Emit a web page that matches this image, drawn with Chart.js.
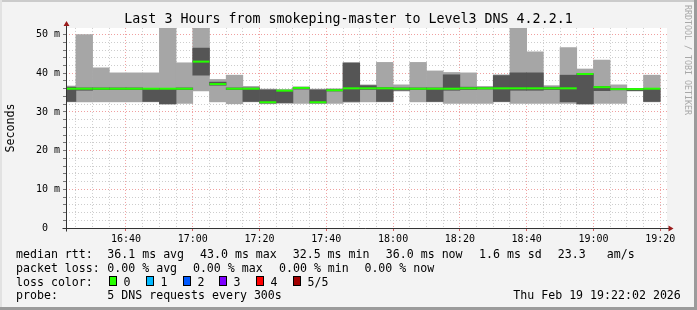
<!DOCTYPE html>
<html>
<head>
<meta charset="utf-8">
<title>Level3 DNS 4.2.2.1</title>
<script src="https://cdn.jsdelivr.net/npm/chart.js@4/dist/chart.umd.min.js"></script>
<style>
    html, body { margin: 0; padding: 0; background: #f3f3f3; }
    canvas { display: block; }
</style>
</head>
<body>
<canvas id="smoke" width="697" height="310"></canvas>
<script>
// 5-minute rrd steps, 5 DNS pings each: sorted ping 1 (min) .. ping 5 (max), ms
const STEP_START = [
    '16:20', '16:25', '16:30', '16:35', '16:40', '16:45',
    '16:50', '16:55', '17:00', '17:05', '17:10', '17:15',
    '17:20', '17:25', '17:30', '17:35', '17:40', '17:45',
    '17:50', '17:55', '18:00', '18:05', '18:10', '18:15',
    '18:20', '18:25', '18:30', '18:35', '18:40', '18:45',
    '18:50', '18:55', '19:00', '19:05', '19:10', '19:15',
];
const PING_MIN = [
    32.6, 32.6, 32.6, 32.6, 32.6, 32.6,
    32.0, 32.2, 35.4, 32.6, 32.1, 32.6,
    32.1, 32.2, 32.2, 32.2, 32.2, 32.5,
    32.6, 32.6, 35.4, 32.6, 32.6, 32.2,
    32.2, 32.2, 32.6, 32.2, 32.2, 32.2,
    32.2, 32.0, 32.2, 32.2, 35.4, 32.6,
];
const PING_2 = [
    32.7, 35.6, 35.8, 35.8, 35.8, 32.7,
    32.1, 35.8, 39.5, 36.9, 35.8, 32.7,
    32.3, 32.4, 35.9, 32.3, 35.4, 32.7,
    35.8, 32.7, 35.6, 35.8, 32.7, 35.6,
    35.8, 35.9, 32.7, 35.6, 35.6, 35.8,
    32.6, 32.1, 35.5, 35.7, 35.5, 32.7,
];
const MEDIAN = [
    36.0, 36.0, 36.0, 36.0, 36.0, 36.0,
    36.0, 36.0, 43.0, 37.2, 36.0, 36.0,
    32.5, 35.5, 36.2, 32.5, 35.6, 36.1,
    36.1, 36.1, 36.0, 36.0, 36.0, 36.0,
    36.1, 36.1, 36.1, 36.1, 36.1, 36.1,
    36.1, 39.8, 36.4, 35.9, 35.9, 36.0,
];
const PING_4 = [
    36.4, 36.2, 36.2, 36.2, 36.2, 36.1,
    36.1, 36.2, 46.5, 37.7, 36.2, 36.2,
    35.7, 35.6, 36.3, 35.7, 35.8, 42.6,
    36.8, 36.3, 36.2, 36.2, 36.2, 39.6,
    36.4, 36.3, 39.4, 40.1, 40.1, 36.4,
    39.5, 39.9, 36.6, 36.1, 36.0, 36.1,
];
const PING_MAX = [
    36.7, 50.0, 41.4, 40.1, 40.1, 40.1,
    53.0, 42.7, 53.0, 38.4, 39.5, 36.6,
    35.9, 35.8, 36.5, 35.9, 36.0, 42.8,
    37.0, 42.8, 37.0, 42.8, 40.6, 40.2,
    40.1, 36.6, 39.6, 53.0, 45.5, 36.8,
    46.6, 41.1, 43.4, 37.0, 36.1, 39.5,
];

const WINDOW = ['16:22:02', '19:22:02'];
const STEP_MIN = 5;
const X_LABELS = ['16:40', '17:00', '17:20', '17:40', '18:00', '18:20', '18:40', '19:00', '19:20'];
const Y_MAX = 51.7;
const Y_TICKS = [0, 10, 20, 30, 40, 50];
const Y_LABELS = ['0  ', '10 m', '20 m', '30 m', '40 m', '50 m'];

const LOSS_LABELS = ['0', '1', '2', '3', '4', '5/5'];
const LOSS_COLORS = ['#26ff00', '#00b8ff', '#0059ff', '#7e00ff', '#ff0000', '#a10000'];

const MONO = '"DejaVu Sans Mono", monospace';
const MAJOR_GRID = '#f0a0a0';
const MINOR_GRID = '#cdcdcd';

// ── helpers ────────────────────────────────────────────────────────────────

function toMin(s) {
    const [h, m, sec = 0] = s.split(':').map(Number);
    return h * 60 + m + sec / 60;
}

function fmtMin(v) {
    const h = Math.floor(v / 60), m = Math.round(v % 60);
    return String(h).padStart(2, '0') + ':' + String(m).padStart(2, '0');
}

const centers = STEP_START.map(s => toMin(s) + STEP_MIN / 2);
const outerSmoke = centers.map((x, i) => ({ x, y: [PING_MIN[i], PING_MAX[i]] }));
const innerSmoke = centers.map((x, i) => ({ x, y: [PING_2[i], PING_4[i]] }));
const medianPts  = centers.map((x, i) => ({ x, y: MEDIAN[i] }));

// ── frame, axes, watermark and rrd-style legend ────────────────────────────

const rrdFrame = {
    id: 'rrdFrame',
    beforeDraw(chart) {
        const { ctx, chartArea: a, width, height } = chart;
        ctx.save();
        ctx.fillStyle = '#f3f3f3';
        ctx.fillRect(0, 0, width, height);
        ctx.fillStyle = '#cbcbcb';
        ctx.fillRect(0, 0, width, 2);
        ctx.fillStyle = '#e2e2e2';
        ctx.fillRect(0, 0, 2, height);
        ctx.fillStyle = '#9b9b9b';
        ctx.fillRect(width - 3, 0, 3, height);
        ctx.fillRect(0, height - 3, width, 3);
        ctx.fillStyle = '#ffffff';
        ctx.fillRect(a.left, a.top, a.right - a.left, a.bottom - a.top);
        ctx.restore();
    },
    afterDraw(chart) {
        const { ctx, chartArea: a } = chart;
        const x0 = Math.round(a.left) + 0.5;
        const y0 = Math.round(a.bottom) + 0.5;
        ctx.save();

        // axes with arrow heads
        ctx.strokeStyle = '#333';
        ctx.lineWidth = 1;
        ctx.beginPath();
        ctx.moveTo(x0, y0 + 3);
        ctx.lineTo(x0, a.top - 5);
        ctx.moveTo(x0 - 4, y0);
        ctx.lineTo(a.right + 2, y0);
        ctx.stroke();
        ctx.fillStyle = '#9b1c1c';
        ctx.beginPath();
        ctx.moveTo(a.right + 6.5, y0);
        ctx.lineTo(a.right + 1.5, y0 - 3);
        ctx.lineTo(a.right + 1.5, y0 + 3);
        ctx.closePath();
        ctx.moveTo(x0, a.top - 7);
        ctx.lineTo(x0 - 3, a.top - 2);
        ctx.lineTo(x0 + 3, a.top - 2);
        ctx.closePath();
        ctx.fill();

        // watermark
        ctx.save();
        ctx.translate(687, 5);
        ctx.rotate(Math.PI / 2);
        ctx.font = '8.3px ' + MONO;
        ctx.fillStyle = '#a8a8a8';
        ctx.textBaseline = 'middle';
        ctx.fillText('RRDTOOL / TOBI OETIKER', 0, 0);
        ctx.restore();

        // legend
        ctx.font = '11.6px ' + MONO;
        ctx.fillStyle = '#000';
        ctx.textBaseline = 'alphabetic';
        const rows = [
            [257.7, [[16, 'median rtt:'], [107.3, '36.1 ms avg'], [200, '43.0 ms max'], [292.7, '32.5 ms min'],
                     [385.8, '36.0 ms now'], [479, '1.6 ms sd'], [557.8, '23.3'], [606.7, 'am/s']]],
            [271.7, [[16, 'packet loss:'], [107.3, '0.00 % avg'], [192.9, '0.00 % max'], [279, '0.00 % min'],
                     [364.4, '0.00 % now']]],
            [285.5, [[16, 'loss color:']]],
            [299.3, [[16, 'probe:'], [107.3, '5 DNS requests every 300s'], [513.3, 'Thu Feb 19 19:22:02 2026']]],
        ];
        rows.forEach(([y, parts]) => parts.forEach(([x, t]) => ctx.fillText(t, x, y)));

        LOSS_LABELS.forEach((label, i) => {
            const bx = Math.round(108.7 + i * 36.9);
            ctx.fillStyle = LOSS_COLORS[i];
            ctx.fillRect(bx, 276, 8, 10);
            ctx.strokeStyle = '#000';
            ctx.strokeRect(bx + 0.5, 276.5, 7, 9);
            ctx.fillStyle = '#000';
            ctx.fillText(label, bx + 14.6, 285.5);
        });
        ctx.restore();
    },
};

// ── chart ──────────────────────────────────────────────────────────────────

const chart = new Chart(document.getElementById('smoke'), {
    type: 'bar',
    data: {
        datasets: [
            {
                label: 'median rtt',
                type: 'line',
                data: medianPts,
                showLine: false,
                pointStyle: 'line',
                pointRadius: (c) => {
                    const s = c.chart.scales.x;
                    return (s.getPixelForValue(STEP_MIN) - s.getPixelForValue(0)) / 2;
                },
                pointBorderWidth: 2,
                pointBorderColor: LOSS_COLORS[0],
                clip: 0,
                order: 0,
            },
            {
                label: 'ping 2-4',
                data: innerSmoke,
                backgroundColor: '#555555',
                clip: 0,
                order: 1,
            },
            {
                label: 'ping 1-5',
                data: outerSmoke,
                backgroundColor: '#a6a6a6',
                clip: 0,
                order: 2,
            },
        ],
    },
    options: {
        responsive: false,
        animation: false,
        events: [],
        layout: { padding: 0 },
        datasets: {
            bar: { barPercentage: 1, categoryPercentage: 1, grouped: false, borderWidth: 0 },
        },
        plugins: {
            legend: { display: false },
            tooltip: { enabled: false },
            title: {
                display: true,
                text: 'Last 3 Hours from smokeping-master to Level3 DNS 4.2.2.1',
                color: '#000',
                font: { family: MONO, size: 13.3, weight: 'normal' },
                padding: { top: 12, bottom: 0 },
            },
        },
        scales: {
            x: {
                type: 'linear',
                min: toMin(WINDOW[0]),
                max: toMin(WINDOW[1]),
                offset: false,
                afterBuildTicks: (s) => {
                    const ticks = [];
                    for (let v = Math.ceil(s.min / STEP_MIN) * STEP_MIN; v <= s.max; v += STEP_MIN) {
                        ticks.push({ value: v });
                    }
                    s.ticks = ticks;
                },
                afterFit: (s) => {
                    s.height = 82;
                    s.paddingLeft = 0;
                    s.paddingRight = 0;
                },
                grid: {
                    offset: false,
                    color: (c) => (c.tick && X_LABELS.includes(fmtMin(c.tick.value)) ? MAJOR_GRID : MINOR_GRID),
                    tickColor: (c) => (c.tick && X_LABELS.includes(fmtMin(c.tick.value)) ? '#d06060' : 'rgba(0,0,0,0)'),
                    tickLength: 3,
                },
                border: { display: false, dash: [1, 2] },
                ticks: {
                    autoSkip: false,
                    maxRotation: 0,
                    padding: 2,
                    color: '#000',
                    font: { family: MONO, size: 10 },
                    callback: (v) => {
                        const s = fmtMin(v);
                        return X_LABELS.includes(s) ? s : '';
                    },
                },
            },
            y: {
                min: 0,
                max: Y_MAX,
                afterFit: (s) => {
                    s.width = 66;
                    s.paddingTop = 0;
                    s.paddingBottom = 0;
                },
                grid: {
                    color: (c) => (c.tick && Y_TICKS.includes(c.tick.value) ? MAJOR_GRID : MINOR_GRID),
                    tickColor: '#777',
                    tickLength: 3,
                },
                border: { display: false, dash: [1, 2] },
                ticks: {
                    stepSize: 2,
                    includeBounds: false,
                    autoSkip: false,
                    padding: 3,
                    color: '#000',
                    font: { family: MONO, size: 10 },
                    callback: (v) => {
                        const i = Y_TICKS.indexOf(v);
                        return i >= 0 ? Y_LABELS[i] : '';
                    },
                },
                title: {
                    display: true,
                    text: 'Seconds',
                    color: '#000',
                    font: { family: MONO, size: 11.7 },
                    padding: { top: 4, bottom: 0 },
                },
            },
            // empty right margin (watermark strip), keeps the title centred on the whole image
            margin: {
                type: 'linear',
                position: 'right',
                display: true,
                grid: { display: false },
                border: { display: false },
                ticks: { display: false },
                afterFit: (s) => {
                    s.width = 30;
                    s.paddingTop = 0;
                    s.paddingBottom = 0;
                },
            },
        },
    },
    plugins: [rrdFrame],
});
</script>
</body>
</html>
